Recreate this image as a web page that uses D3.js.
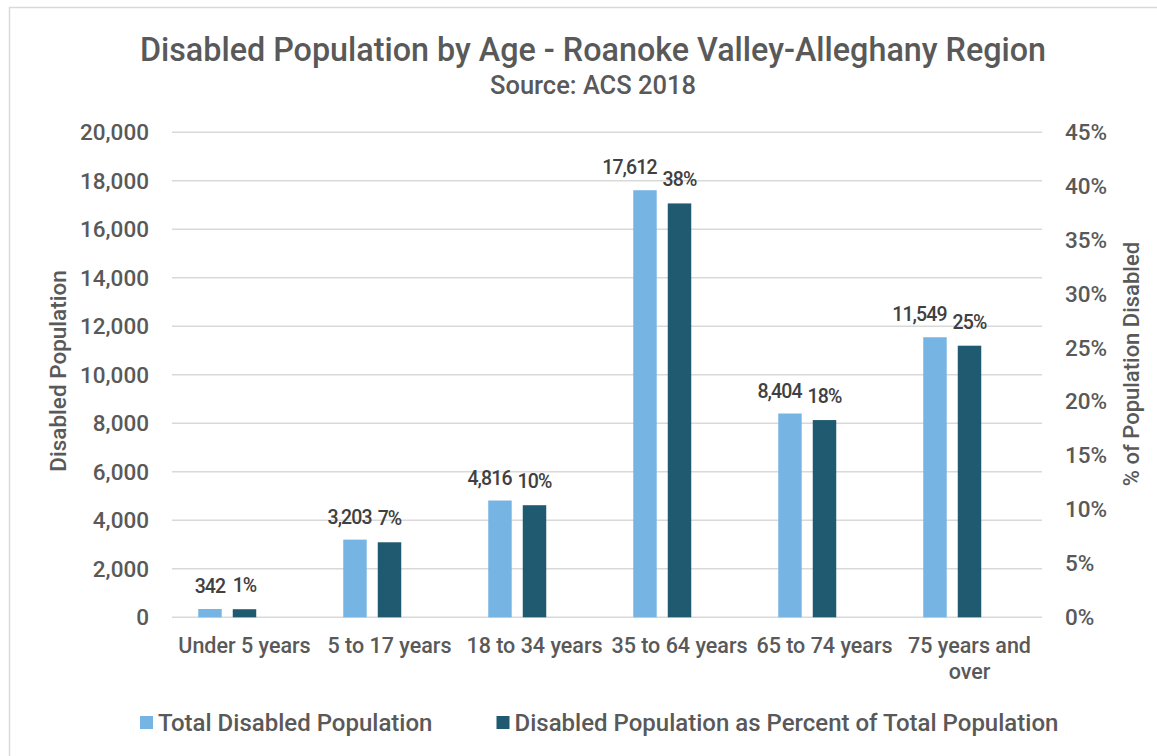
<!DOCTYPE html>
<html>
<head>
  <meta charset="utf-8">
  <script src="https://d3js.org/d3.v7.min.js"></script>
  <style>
    body { margin: 0; background: #fff; }
    text { font-family: Roboto, "Noto Sans", sans-serif; }
  </style>
</head>
<body>
  <svg width="1157" height="756"></svg>

  <script>
    // values
    const categories = ["Under 5 years", "5 to 17 years", "18 to 34 years", "35 to 64 years", "65 to 74 years", "75 years and over"];
    const totalDisabled = [342, 3203, 4816, 17612, 8404, 11549];
    const pctDisabled = [0.0075, 0.0696, 0.104, 0.384, 0.183, 0.252];
    const leftTicks = [0, 2000, 4000, 6000, 8000, 10000, 12000, 14000, 16000, 18000, 20000];
    const rightTicks = [0, 0.05, 0.10, 0.15, 0.20, 0.25, 0.30, 0.35, 0.40, 0.45];
    const seriesNames = ["Total Disabled Population", "Disabled Population as Percent of Total Population"];

    const lightBlue = "#76b5e3";
    const darkBlue = "#1f5a70";
    const textGray = "#595959";
    const labelGray = "#404040";

    const svg = d3.select("svg");

    // chart frame
    svg.append("rect")
      .attr("x", 9.5).attr("y", 7.5)
      .attr("width", 1200).attr("height", 800)
      .attr("fill", "#fff")
      .attr("stroke", "#d9d9d9")
      .attr("stroke-width", 1.5);

    const plotLeft = 172, plotRight = 1042;
    const yTop = 132.3, yBottom = 617.3;

    const x = d3.scaleBand().domain(categories).range([plotLeft, plotRight]);
    // third slot is left empty, as in the original layout
    const x1 = d3.scaleBand().domain(["total", "pct", "blank"])
      .range([0, x.bandwidth()]).paddingInner(0.32).paddingOuter(0.76);
    const yLeft = d3.scaleLinear().domain([0, 20000]).range([yBottom, yTop]);
    const yRight = d3.scaleLinear().domain([0, 0.45]).range([yBottom, yTop]);

    // title
    svg.append("text")
      .attr("x", 593).attr("y", 61)
      .attr("text-anchor", "middle")
      .attr("font-size", 32.3)
      .attr("font-weight", 500)
      .attr("fill", textGray)
      .text("Disabled Population by Age - Roanoke Valley-Alleghany Region");
    svg.append("text")
      .attr("x", 593).attr("y", 94)
      .attr("text-anchor", "middle")
      .attr("font-size", 25.5)
      .attr("font-weight", 500)
      .attr("fill", textGray)
      .text("Source: ACS 2018");

    // gridlines
    svg.append("g")
      .selectAll("line")
      .data(leftTicks)
      .enter()
      .append("line")
      .attr("x1", plotLeft).attr("x2", plotRight)
      .attr("y1", d => yLeft(d)).attr("y2", d => yLeft(d))
      .attr("stroke", "#d9d9d9")
      .attr("stroke-width", 1.4);

    // left axis
    const leftAxis = svg.append("g")
      .attr("transform", "translate(" + (plotLeft - 23) + ",0)")
      .call(d3.axisLeft(yLeft).tickValues(leftTicks).tickFormat(d3.format(",")).tickSize(0).tickPadding(0));
    leftAxis.select(".domain").remove();
    leftAxis.selectAll("text")
      .attr("font-size", 22.5)
      .attr("font-weight", 500)
      .attr("fill", textGray)
      .attr("font-family", "Roboto, sans-serif");

    // right axis
    const rightAxis = svg.append("g")
      .attr("transform", "translate(" + (plotRight + 23) + ",0)")
      .call(d3.axisRight(yRight).tickValues(rightTicks).tickFormat(d3.format(".0%")).tickSize(0).tickPadding(0));
    rightAxis.select(".domain").remove();
    rightAxis.selectAll("text")
      .attr("font-size", 22.5)
      .attr("font-weight", 500)
      .attr("fill", textGray)
      .attr("font-family", "Roboto, sans-serif");

    // axis titles
    svg.append("text")
      .attr("transform", "translate(66,371) rotate(-90)")
      .attr("text-anchor", "middle")
      .attr("font-size", 22.5)
      .attr("font-weight", 500)
      .attr("fill", textGray)
      .text("Disabled Population");
    svg.append("text")
      .attr("transform", "translate(1139,364) rotate(-90)")
      .attr("text-anchor", "middle")
      .attr("font-size", 22)
      .attr("font-weight", 500)
      .attr("fill", textGray)
      .text("% of Population Disabled");

    // bars
    const groups = svg.append("g")
      .selectAll("g")
      .data(categories)
      .enter()
      .append("g")
      .attr("transform", d => "translate(" + x(d) + ",0)");

    groups.append("rect")
      .attr("x", x1("total"))
      .attr("width", x1.bandwidth())
      .attr("y", (d, i) => yLeft(totalDisabled[i]))
      .attr("height", (d, i) => yBottom - yLeft(totalDisabled[i]))
      .attr("fill", lightBlue);

    groups.append("rect")
      .attr("x", x1("pct"))
      .attr("width", x1.bandwidth())
      .attr("y", (d, i) => yRight(pctDisabled[i]))
      .attr("height", (d, i) => yBottom - yRight(pctDisabled[i]))
      .attr("fill", darkBlue);

    // data labels: percent label sits on its bar, count label slides left if they collide
    groups.each(function (d, i) {
      const g = d3.select(this);
      const pctLabel = g.append("text")
        .attr("x", x1("pct") + x1.bandwidth() / 2)
        .attr("y", yRight(pctDisabled[i]) - 17)
        .attr("text-anchor", "middle")
        .attr("font-size", 19.5)
        .attr("font-weight", 500)
        .attr("letter-spacing", -0.9)
        .attr("fill", labelGray)
        .text(d3.format(".0%")(pctDisabled[i]));
      const totLabel = g.append("text")
        .attr("y", yLeft(totalDisabled[i]) - 16)
        .attr("text-anchor", "middle")
        .attr("font-size", 19.5)
        .attr("font-weight", 500)
        .attr("letter-spacing", -0.9)
        .attr("fill", labelGray)
        .text(d3.format(",")(totalDisabled[i]));
      const pw = pctLabel.node().getComputedTextLength();
      const tw = totLabel.node().getComputedTextLength();
      const pctLeft = x1("pct") + x1.bandwidth() / 2 - pw / 2;
      const cx = Math.min(x1("total") + x1.bandwidth() / 2, pctLeft - 6 - tw / 2);
      totLabel.attr("x", cx);
    });

    // category labels (wrap long one)
    svg.append("g")
      .selectAll("text")
      .data(categories)
      .enter()
      .append("text")
      .attr("x", d => x(d) + x.bandwidth() / 2)
      .attr("y", 653)
      .attr("text-anchor", "middle")
      .attr("font-size", 21.5)
      .attr("font-weight", 500)
      .attr("fill", textGray)
      .each(function (d) {
        const lines = d === "75 years and over" ? ["75 years and", "over"] : [d];
        const t = d3.select(this);
        lines.forEach((line, j) => {
          t.append("tspan")
            .attr("x", x(d) + x.bandwidth() / 2)
            .attr("dy", j === 0 ? 0 : 26)
            .text(line);
        });
      });

    // legend
    const legendX = [140, 496.5];
    const legend = svg.append("g")
      .selectAll("g")
      .data(seriesNames)
      .enter()
      .append("g")
      .attr("transform", (d, i) => "translate(" + legendX[i] + ",716)");
    legend.append("rect")
      .attr("width", 13).attr("height", 13)
      .attr("fill", (d, i) => i === 0 ? lightBlue : darkBlue);
    legend.append("text")
      .attr("x", 18).attr("y", 15)
      .attr("font-size", 24)
      .attr("font-weight", 500)
      .attr("fill", textGray)
      .text(d => d);
  </script>
</body>
</html>
